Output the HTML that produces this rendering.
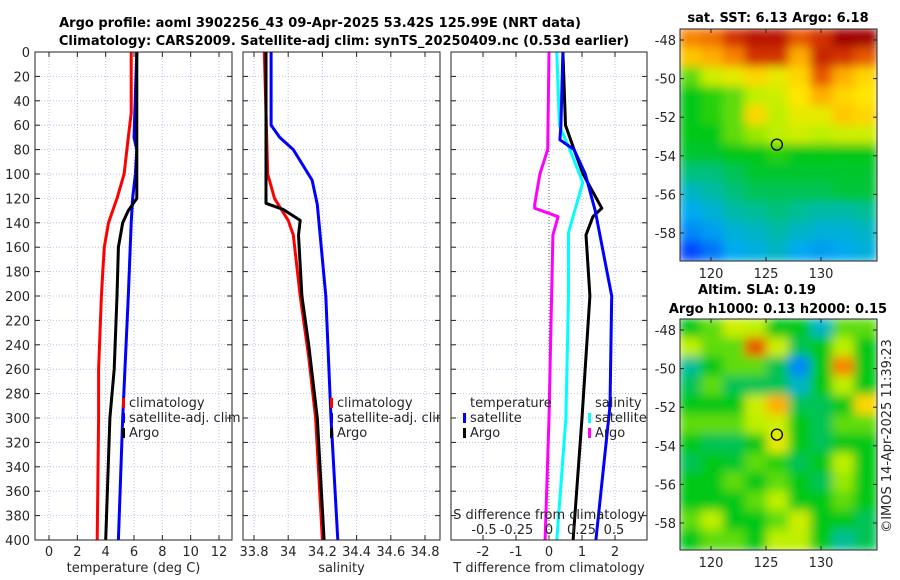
<!DOCTYPE html>
<html><head><meta charset="utf-8"><style>
html,body{margin:0;padding:0;background:#fff;}
svg{display:block;font-family:"DejaVu Sans","Liberation Sans",sans-serif;}
.t{font-size:13px;fill:#262626;}
.b{font-size:13px;font-weight:bold;fill:#000;}
</style></head><body>
<svg id="fig" width="900" height="580" viewBox="0 0 900 580">
<defs>
<filter id="blur" x="0" y="0" width="1" height="1"><feGaussianBlur stdDeviation="5"/></filter>
<clipPath id="c1"><rect x="680" y="29" width="197" height="232"/></clipPath>
<clipPath id="c2"><rect x="680" y="319" width="197" height="231"/></clipPath>
</defs>
<text class="b" x="320" y="27" text-anchor="middle">Argo profile: aoml 3902256_43 09-Apr-2025 53.42S 125.99E (NRT data)</text>
<text class="b" x="344" y="45" text-anchor="middle">Climatology: CARS2009. Satellite-adj clim: synTS_20250409.nc (0.53d earlier)</text>
<g id="g"></g>
</svg>
<script>
// ---- data ----
const depthTicks=[0,20,40,60,80,100,120,140,160,180,200,220,240,260,280,300,320,340,360,380,400];
const tempTicks=[0,2,4,6,8,10,12];
const salTicks=[33.8,34,34.2,34.4,34.6,34.8];
const tdiffTicks=[-2,-1,0,1,2];
const sdiffTicks=[-0.5,-0.25,0,0.25,0.5];
const tClimDepth=[0,50,70,100,120,140,160,180,200,260,300,400];
const tClimVal=[5.8,5.8,5.6,5.3,4.8,4.2,3.9,3.8,3.7,3.5,3.5,3.4];
const tSatDepth=[0,70,80,100,120,140,200,300,400];
const tSatVal=[6.2,6.0,6.2,6.1,5.9,5.8,5.6,5.2,4.9];
const tArgoDepth=[0,120,130,140,160,200,260,300,400];
const tArgoVal=[6.2,6.2,5.6,5.2,4.9,4.8,4.6,4.3,4.0];
const sClimDepth=[0,100,120,138,150,200,250,300,400];
const sClimVal=[33.86,33.88,33.92,34.0,34.03,34.07,34.12,34.16,34.2];
const sSatDepth=[0,60,70,80,105,125,140,200,300,400];
const sSatVal=[33.9,33.9,33.95,34.03,34.14,34.17,34.18,34.22,34.25,34.29];
const sArgoDepth=[0,124,129,138,150,200,240,300,400];
const sArgoVal=[33.87,33.87,33.97,34.07,34.06,34.08,34.12,34.17,34.21];
const dTSatDepth=[0,60,72,80,100,130,200,290,400];
const dTSatVal=[0.42,0.36,0.33,0.76,1.1,1.4,1.9,1.85,1.42];
const dTArgoDepth=[0,60,80,100,128,135,150,200,300,400];
const dTArgoVal=[0.42,0.5,0.76,1.03,1.6,1.33,1.12,1.24,1.0,0.73];
const dSSatDepth=[0,60,80,107,148,200,300,400];
const dSSatVal=[0.06,0.08,0.16,0.26,0.15,0.15,0.13,0.06];
const dSArgoDepth=[0,80,100,125,128,135,150,200,300,400];
const dSArgoVal=[0,-0.01,-0.07,-0.11,-0.11,0.07,0.03,0.02,0.0,-0.03];
const latTicks=[-48,-50,-52,-54,-56,-58];
const lonTicks=[120,125,130];
const sstGrid=[
[.8,.82,.9,.95,.95,.85,.9,1,1],
[.72,.75,.8,.9,.9,.75,.92,.9,.85],
[.55,.62,.65,.7,.65,.7,.85,.75,.7],
[.5,.52,.55,.6,.62,.68,.75,.7,.68],
[.5,.52,.55,.7,.6,.65,.65,.72,.7],
[.5,.5,.55,.58,.6,.62,.6,.62,.62],
[.48,.48,.5,.5,.52,.5,.5,.5,.5],
[.42,.42,.45,.48,.48,.48,.48,.48,.48],
[.35,.38,.42,.45,.45,.45,.45,.47,.47],
[.3,.33,.38,.4,.42,.4,.38,.38,.4],
[.25,.28,.33,.35,.38,.35,.33,.33,.35],
[.15,.22,.3,.32,.35,.3,.28,.3,.32]];
const slaGrid=[
[.5,.55,.62,.6,.5,.5,.35,.55,.55],
[.6,.55,.55,.85,.62,.45,.5,.6,.5],
[.4,.5,.55,.55,.45,.25,.5,.8,.5],
[.45,.55,.45,.45,.45,.35,.5,.6,.5],
[.5,.5,.5,.62,.75,.45,.45,.5,.7],
[.55,.55,.55,.6,.62,.5,.45,.55,.55],
[.5,.45,.45,.5,.65,.5,.45,.5,.5],
[.45,.5,.48,.55,.52,.45,.5,.6,.5],
[.5,.5,.55,.5,.55,.5,.45,.58,.5],
[.5,.5,.5,.55,.6,.5,.5,.55,.5],
[.55,.6,.5,.5,.55,.62,.5,.5,.45],
[.5,.55,.55,.5,.6,.6,.5,.4,.45]];
const floatLon=125.99, floatLat=-53.42;

// ---- helpers ----
const NS='http://www.w3.org/2000/svg';
const G=document.getElementById('g');
function mk(tag,at,parent){const e=document.createElementNS(NS,tag);for(const k in at)e.setAttribute(k,at[k]);(parent||G).appendChild(e);return e;}
const Y=d=>52+d*(488/400);
function lin(d0,d1,r0,r1){return v=>r0+(v-d0)*(r1-r0)/(d1-d0);}
const xT=lin(0,12,49,219), xS=lin(33.8,34.8,254,425), xDT=lin(0,2,549,615), xDS=lin(0,0.5,549,614);

function panel(x0,x1,name,xs,ticks,fmt,label,gridTicks){
  const r=mk('rect',{x:x0,y:52,width:x1-x0,height:488,fill:'#fff',stroke:'none'});
  
  depthTicks.forEach(d=>{if(d>0&&d<400)mk('line',{x1:x0,x2:x1,y1:Y(d),y2:Y(d),stroke:'#b8c4e8','stroke-width':1,'stroke-dasharray':'1,2'});});
  (gridTicks||ticks).forEach(t=>{const x=xs(t);mk('line',{x1:x,x2:x,y1:52,y2:540,stroke:'#b8c4e8','stroke-width':1,'stroke-dasharray':'1,2'});});
  ticks.forEach((t,i)=>{const x=xs(t);mk('line',{x1:x,x2:x,y1:540,y2:535,stroke:'#222'});mk('line',{x1:x,x2:x,y1:52,y2:57,stroke:'#222'});
    const tx=mk('text',{x:x,y:556,class:'t','text-anchor':'middle'});tx.textContent=fmt(t);
    });
  depthTicks.forEach(d=>{mk('line',{x1:x0,x2:x0+5,y1:Y(d),y2:Y(d),stroke:'#222'});mk('line',{x1:x1,x2:x1-5,y1:Y(d),y2:Y(d),stroke:'#222'});});
  const lb=mk('text',{x:(x0+x1)/2,y:572,class:'t','text-anchor':'middle'});lb.textContent=label;
  
}
function line(xs,ds,vs,color,name,w){
  const p=mk('polyline',{points:ds.map((d,i)=>xs(vs[i]).toFixed(1)+','+Y(d).toFixed(1)).join(' '),fill:'none',stroke:color,'stroke-width':w||3,'stroke-linejoin':'round'});
  
}
function frame(x0,x1,name){const f=mk('rect',{x:x0,y:52,width:x1-x0,height:488,fill:'none',stroke:'#222','stroke-width':1});
  }
function legend(x,y,items,name){items.forEach((it,i)=>{
  if(it[1])mk('rect',{x:x,y:y+i*15-9,width:3,height:10,fill:it[1]});
  const t=mk('text',{x:x+7,y:y+i*15,class:'t'});t.textContent=it[0];
  });}

// panel 1
panel(35,232,'temperature',xT,tempTicks,t=>t,'temperature (deg C)');
depthTicks.forEach(d=>{const t=mk('text',{x:30,y:Y(d)+5,class:'t','text-anchor':'end'});t.textContent=d;
  });
line(xT,tClimDepth,tClimVal,'#f00','temp-climatology-line');
line(xT,tSatDepth,tSatVal,'#00f','temp-satellite-line');
line(xT,tArgoDepth,tArgoVal,'#000','temp-argo-line');
legend(122,407,[['climatology','#f00'],['satellite-adj. clim','#00f'],['Argo','#000']],'temp');
frame(35,232,'temperature');
// panel 2
panel(243,440,'salinity',xS,salTicks,t=>t.toFixed(1).replace('34.0','34'),'salinity');
line(xS,sClimDepth,sClimVal,'#f00','sal-climatology-line');
line(xS,sSatDepth,sSatVal,'#00f','sal-satellite-line');
line(xS,sArgoDepth,sArgoVal,'#000','sal-argo-line');
legend(330,407,[['climatology','#f00'],['satellite-adj. clim','#00f'],['Argo','#000']],'sal');
mk('rect',{x:440.5,y:395,width:10,height:45,fill:'#fff'});
frame(243,440,'salinity');
// panel 3
panel(451,647,'difference',xDT,tdiffTicks,t=>t,'T difference from climatology');
mk('line',{x1:549,x2:549,y1:52,y2:540,stroke:'#4a6a3a','stroke-width':1,'stroke-dasharray':'1,2'});
line(xDS,dSArgoDepth,dSArgoVal,'#f0f','sdiff-argo-line');
line(xDS,dSSatDepth,dSSatVal,'#0ff','sdiff-satellite-line');
line(xDT,dTArgoDepth,dTArgoVal,'#000','tdiff-argo-line');
line(xDT,dTSatDepth,dTSatVal,'#00f','tdiff-satellite-line');
legend(463,407,[['temperature',null],['satellite','#00f'],['Argo','#000']],'tdiff');
legend(588,407,[['salinity',null],['satellite','#0ff'],['Argo','#f0f']],'sdiff');
{const t=mk('text',{x:549,y:519,class:'t','text-anchor':'middle'});t.textContent='S difference from climatology';
 }
sdiffTicks.forEach(v=>{const t=mk('text',{x:xDS(v),y:534,class:'t','text-anchor':'middle'});t.textContent=v;
 });
frame(451,647,'difference');

// maps
const stops=[[0,[0,0,150]],[.15,[0,70,255]],[.3,[0,170,240]],[.4,[0,190,150]],[.5,[0,200,20]],[.6,[190,240,0]],[.68,[255,230,0]],[.78,[255,150,0]],[.88,[220,60,0]],[1,[160,0,0]]];
function cmap(v){for(let i=1;i<stops.length;i++){if(v<=stops[i][0]){const a=stops[i-1],b=stops[i],f=(v-a[0])/(b[0]-a[0]);
  return 'rgb('+a[1].map((c,k)=>Math.round(c+(b[1][k]-c)*f)).join(',')+')';}}return 'rgb(160,0,0)';}
const lonX=lin(120,130,711,821);
function map(grid,y0,h,latY,clip,name,title1){
  const g=mk('g',{'clip-path':'url(#'+clip+')'});
  const inner=mk('g',{filter:'url(#blur)'},g);
  const cw=197/grid[0].length, ch=h/grid.length;
  grid.forEach((row,r)=>row.forEach((v,c)=>{mk('rect',{x:680+c*cw-1,y:y0+r*ch-1,width:cw+2,height:ch+2,fill:cmap(v)},inner);}));
  
  mk('rect',{x:680,y:y0,width:197,height:h,fill:'none',stroke:'#222'});
  latTicks.forEach(l=>{const y=latY(l);mk('line',{x1:680,x2:684,y1:y,y2:y,stroke:'#222'});mk('line',{x1:877,x2:873,y1:y,y2:y,stroke:'#222'});
    const t=mk('text',{x:676,y:y+5,class:'t','text-anchor':'end'});t.textContent=l;
    });
  lonTicks.forEach(l=>{const x=lonX(l);mk('line',{x1:x,x2:x,y1:y0+h,y2:y0+h-4,stroke:'#222'});mk('line',{x1:x,x2:x,y1:y0,y2:y0+4,stroke:'#222'});
    const t=mk('text',{x:x,y:y0+h+17,class:'t','text-anchor':'middle'});t.textContent=l;
    });
  const ci=mk('circle',{cx:lonX(floatLon),cy:latY(floatLat),r:5.5,fill:'none',stroke:'#000','stroke-width':1.3});
  
  title1.forEach(tt=>{const t=mk('text',{x:tt[1],y:tt[2],class:'b','text-anchor':'middle'});t.textContent=tt[0];
    });
}
map(sstGrid,29,232,lin(-48,-58,40,233),'c1','sst',[['sat. SST: 6.13 Argo: 6.18',778,22]]);
map(slaGrid,319,231,lin(-48,-58,330,523),'c2','sla',[['Altim. SLA: 0.19',757,294],['Argo h1000: 0.13 h2000: 0.15',778,313]]);
{const t=mk('text',{x:0,y:0,class:'t','text-anchor':'middle',transform:'translate(891,436) rotate(-90)'});t.textContent='©IMOS 14-Apr-2025 11:39:23';
 }
</script>
</body></html>
